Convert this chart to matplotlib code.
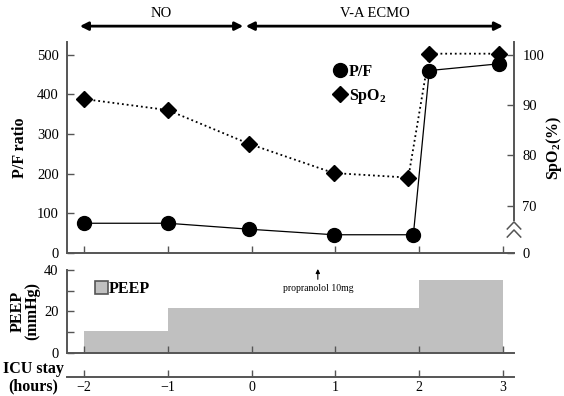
import matplotlib
matplotlib.use("Agg")
import matplotlib.pyplot as plt
import numpy as np
from matplotlib.lines import Line2D
from matplotlib.patches import Patch

plt.rcParams["font.family"] = ["Liberation Serif", "DejaVu Serif"]
plt.rcParams["mathtext.fontset"] = "custom"
plt.rcParams["mathtext.rm"] = "Liberation Serif"
plt.rcParams["mathtext.bf"] = "Liberation Serif:bold"

# data
pf_hours = [-2, -1, -0.03, 0.98, 1.93, 2.12, 2.95]
pf_ratio = [75, 75, 60, 46, 46, 460, 477]
spo2_hours = [-2, -1, -0.03, 0.98, 1.87, 2.12, 2.95]
spo2 = [91.2, 89.0, 82.3, 76.5, 75.6, 100.2, 100.2]
peep_edges = [-2, -1, 2, 3]
peep_values = [10.5, 21.5, 35]
hour_ticks = [-2, -1, 0, 1, 2, 3]
spo2_ticks = [70, 80, 90, 100]
phases = [("NO", -2.05, -0.1), ("V-A ECMO", -0.07, 3.0)]

spine_col = "#555555"
xlim = (-2.203, 3.131)
fs = 10.5
lfs = 11.5

fig = plt.figure(figsize=(5.64, 3.96), dpi=100)
ax = fig.add_axes([67 / 564, 143 / 396, 447 / 564, 211 / 396])
ax2 = ax.twinx()
ax_p = fig.add_axes([67 / 564, 43.3 / 396, 447 / 564, 82.7 / 396])
ax_t = fig.add_axes([67 / 564, 19 / 396, 447 / 564, 0.01])

# top panel
ax.plot(pf_hours, pf_ratio, "-", color="black", lw=0.9, marker="o",
        ms=10, zorder=3)
ax2.plot(spo2_hours, spo2, ":", color="black", lw=1.3, marker="D",
         ms=8, zorder=3)
ax.set_xlim(xlim)
ax.set_ylim(0, 532)
ax.set_yticks([0, 100, 200, 300, 400, 500])
ax.set_xticks(hour_ticks)
ax.set_xticklabels([])
ax2_bottom = 100 - 500 / 12.7
ax2.set_ylim(ax2_bottom, 100 + 32 / 12.7)
ax2.set_yticks([ax2_bottom] + spo2_ticks)
ax2.set_yticklabels(["0"] + [str(t) for t in spo2_ticks])
for a in (ax, ax2):
    a.spines["top"].set_visible(False)
    for s in ("left", "right", "bottom"):
        a.spines[s].set_color(spine_col)
        a.spines[s].set_linewidth(1.4)
    a.tick_params(direction="in", length=5, width=1, color=spine_col,
                  labelsize=fs, pad=6)
ax.spines["right"].set_visible(False)
ax2.spines["left"].set_visible(False)
ax2.spines["bottom"].set_visible(False)
ax2.spines["right"].set_bounds(67.2, ax2.get_ylim()[1])
ax.set_ylabel("P/F ratio", fontweight="bold", fontsize=lfs, labelpad=6)
ax2.set_ylabel(r"SpO$_\mathbf{2}$(%)", fontweight="bold", fontsize=lfs,
               labelpad=0)

# axis break mark on the right axis
for yb in (66.8, 65.2):
    ax2.plot([0.985, 1.0, 1.015], [yb - 1.4, yb, yb - 1.4], color=spine_col,
             lw=1.1, transform=ax2.get_yaxis_transform(), clip_on=False)

ax.legend(
    [Line2D([], [], ls="none", marker="o", ms=10, color="black"),
     Line2D([], [], ls="none", marker="D", ms=8, color="black")],
    ["P/F", r"SpO$_\mathbf{2}$"], loc="upper left",
    bbox_to_anchor=(0.565, 0.965), frameon=False, handlelength=0.8,
    handletextpad=0.15, labelspacing=0.45,
    prop={"weight": "bold", "size": lfs})

# phase arrows
for name, x0, x1 in phases:
    ax.annotate("", xy=(x1, 572), xytext=(x0, 572),
                arrowprops=dict(arrowstyle="<|-|>", lw=2, color="black",
                                mutation_scale=12, shrinkA=0, shrinkB=0),
                annotation_clip=False)
    ax.text((x0 + x1) / 2, 603, name, ha="center", va="center", fontsize=fs,
            clip_on=False)

# PEEP panel
ax_p.bar(peep_edges[:-1], peep_values, width=np.diff(peep_edges), align="edge",
         color="#c0c0c0", edgecolor="none")
ax_p.set_xlim(xlim)
ax_p.set_ylim(0, 40)
ax_p.set_yticks([0, 20, 40])
ax_p.set_yticks([10, 30], minor=True)
ax_p.set_xticks(hour_ticks)
ax_p.set_xticklabels([])
for s in ("top", "right"):
    ax_p.spines[s].set_visible(False)
for s in ("left", "bottom"):
    ax_p.spines[s].set_color(spine_col)
    ax_p.spines[s].set_linewidth(1.4)
ax_p.tick_params(which="both", direction="in", length=5, width=1,
                 color=spine_col, labelsize=fs, pad=6)
ax_p.set_ylabel("PEEP\n(mmHg)", fontweight="bold", fontsize=lfs,
                linespacing=0.85, labelpad=3)
ax_p.legend([Patch(facecolor="#c0c0c0", edgecolor="#555555", lw=1.2)],
            ["PEEP"], loc="upper left", bbox_to_anchor=(0.03, 1.04),
            frameon=False, handlelength=0.8, handleheight=0.8,
            handletextpad=0.1, prop={"weight": "bold", "size": lfs})
ax_p.annotate("", xy=(0.79, 40.5), xytext=(0.79, 35.5),
              arrowprops=dict(arrowstyle="-|>", lw=0.8, color="black",
                              mutation_scale=6, shrinkA=0, shrinkB=0),
              annotation_clip=False)
ax_p.text(0.79, 31, "propranolol 10mg", ha="center", va="center", fontsize=7)

# ICU stay time axis
ax_t.set_xlim(xlim)
ax_t.set_yticks([])
for s in ("top", "right", "left"):
    ax_t.spines[s].set_visible(False)
ax_t.patch.set_visible(False)
ax_t.spines["bottom"].set_color(spine_col)
ax_t.spines["bottom"].set_linewidth(1.4)
ax_t.spines["bottom"].set_position(("axes", 0))
ax_t.set_xticks(hour_ticks)
ax_t.tick_params(axis="x", direction="in", length=5, width=1, color=spine_col,
                 labelsize=fs - 0.5, pad=3)
fig.text(33 / 564, 1 - 369 / 396, "ICU stay", ha="center", va="center",
         fontweight="bold", fontsize=lfs)
fig.text(33 / 564, 1 - 386 / 396, "(hours)", ha="center", va="center",
         fontweight="bold", fontsize=lfs)

fig.savefig("out.png", dpi=100)
